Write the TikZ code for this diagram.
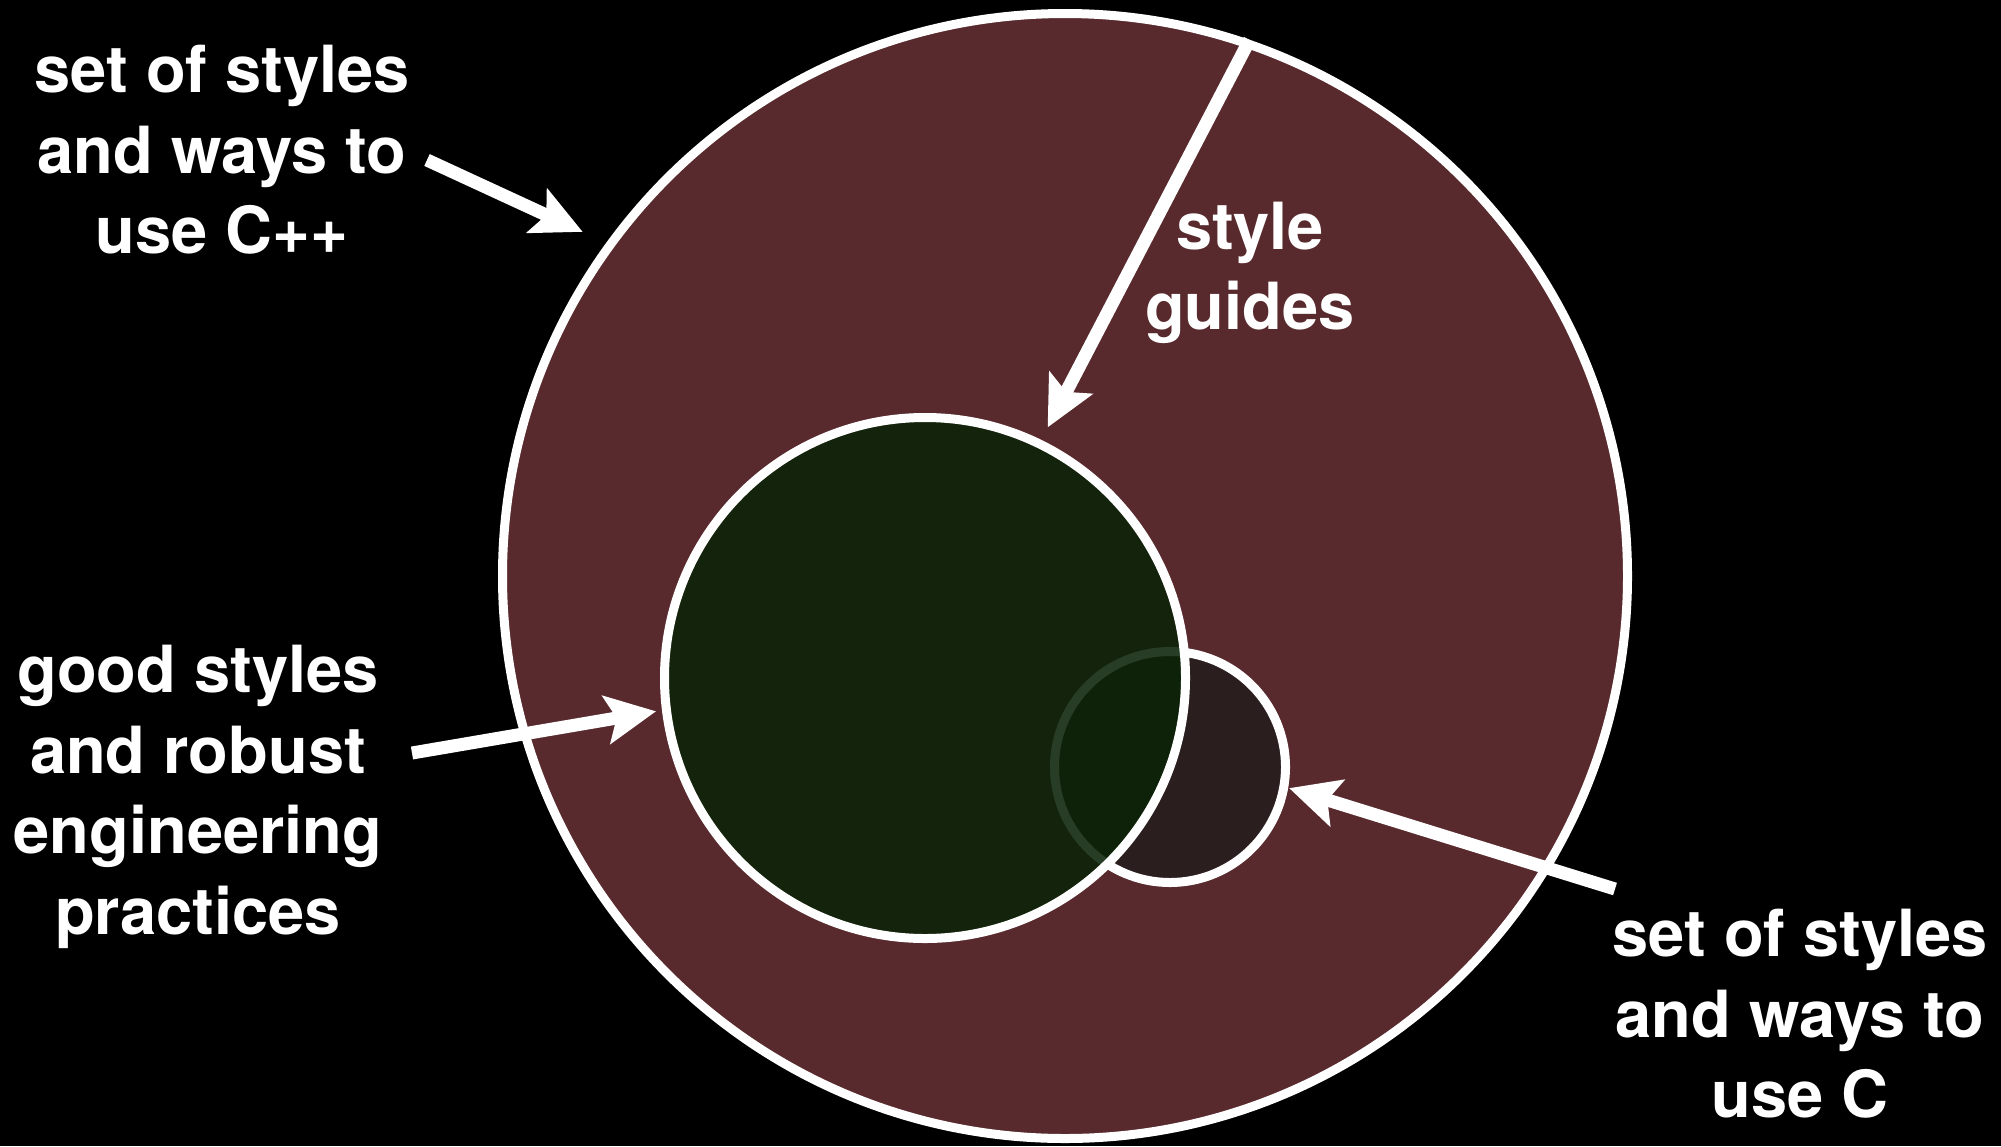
\documentclass[tikz,border=0pt]{standalone}
\usepackage{fontspec}
\setmainfont{TeX Gyre Heros}
\usetikzlibrary{arrows.meta}
\definecolor{maroon}{HTML}{582A2D}
\definecolor{deepgreen}{HTML}{0B2307}
\definecolor{darkc}{HTML}{2B1E1F}
\begin{document}
\begin{tikzpicture}[x=0.5pt,y=-0.5pt,
  ring/.style={circle, draw=white, line width=4.5pt, inner sep=0pt},
  lbl/.style={text=white, font=\fontsize{32.5}{40.3}\selectfont\bfseries, align=center},
  arr/.style={draw=white, line width=6.5pt, -{Stealth[length=25pt,width=24pt,inset=5pt]}}]
\fill[black] (0,0) rectangle (2001,1146);
\node[ring, fill=maroon, minimum size=562.5pt] (big) at (1065,576) {};
\node[ring, fill=darkc, minimum size=115.5pt] (small) at (1170,767) {};
\node[ring, fill=deepgreen, fill opacity=0.88, minimum size=260.5pt] (green) at (925,678) {};

\node[lbl] (cpp) at (222,150) {set of styles\\and ways to\\use C++};
\node[lbl] (guide) at (1250,273) {style\\guides};
\node[lbl] (good) at (198,797) {good styles\\and robust\\engineering\\practices};
\node[lbl] (cl) at (1800,1014) {set of styles\\and ways to\\use C};

\coordinate (t1) at (427,160);
\coordinate (t3) at (412,753);
\coordinate (t4) at (1615,889);
\draw[arr, shorten >=13pt] (t1) -- (big.144.7);
\draw[arr, shorten >=7pt] (big.71.6) -- (green.64);
\draw[arr, shorten >=3pt] (t3) -- (green.187.8);
\draw[arr, shorten >=0.5pt] (t4) -- (small.-10.5);
\end{tikzpicture}
\end{document}
